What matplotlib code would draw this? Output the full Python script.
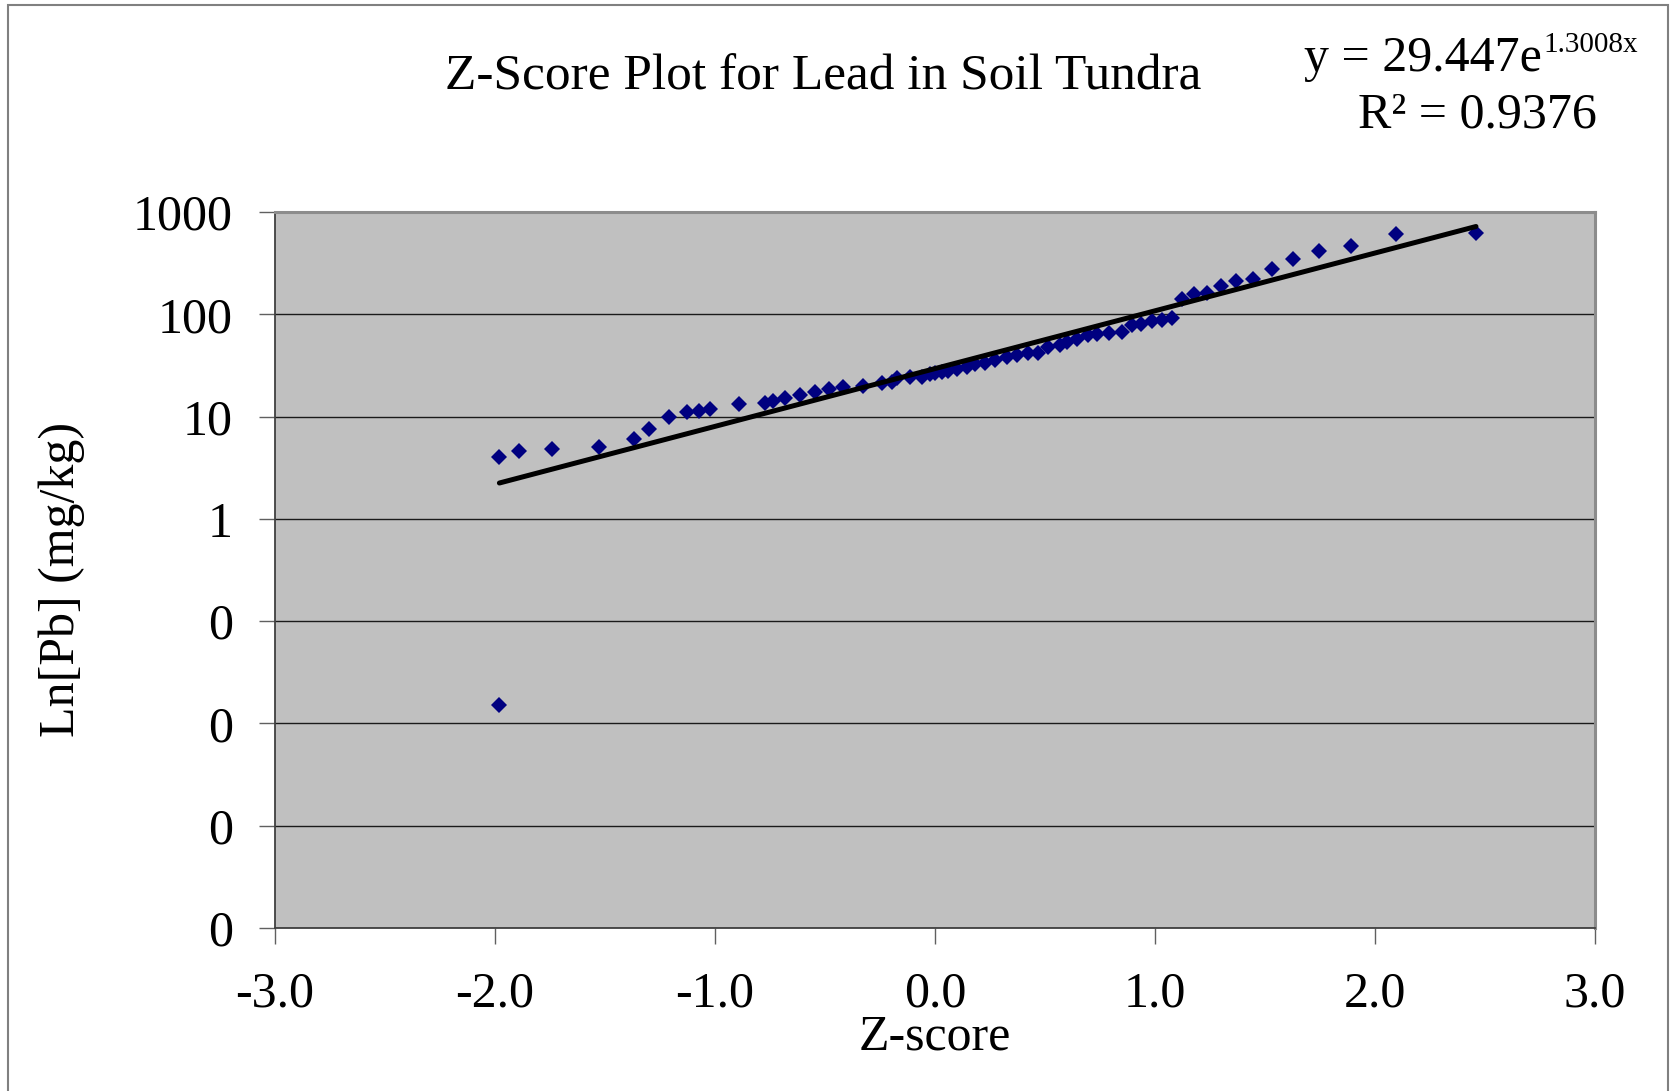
import matplotlib
matplotlib.use("Agg")
import matplotlib.pyplot as plt
import numpy as np
from matplotlib.ticker import FixedLocator, FixedFormatter, NullLocator
from matplotlib.patches import Rectangle

# ---------------- data ----------------
z_scores = [-1.98, -1.98, -1.89, -1.742, -1.529, -1.370, -1.301, -1.208, -1.127, -1.073,
            -1.023, -0.892, -0.773, -0.735, -0.680, -0.612, -0.544, -0.483, -0.418, -0.329,
            -0.242, -0.197, -0.174, -0.114, -0.061, -0.023, 0.0, 0.030, 0.061, 0.098,
            0.144, 0.182, 0.227, 0.273, 0.326, 0.371, 0.421, 0.467, 0.515, 0.568,
            0.598, 0.647, 0.697, 0.738, 0.792, 0.852, 0.894, 0.936, 0.985, 1.030,
            1.076, 1.124, 1.179, 1.235, 1.300, 1.368, 1.444, 1.530, 1.629, 1.745,
            1.889, 2.094, 2.459]
pb_values = [0.0152, 4.06, 4.6, 4.83, 5.06, 6.1, 7.5, 10.0, 11.0, 11.4,
             11.9, 13.2, 13.7, 14.2, 15.1, 16.2, 17.5, 18.5, 19.3, 20.0,
             21.1, 21.9, 23.6, 24.2, 24.5, 26.0, 26.8, 27.4, 27.8, 29.1,
             30.7, 32.4, 33.5, 35.6, 38.4, 39.8, 41.4, 42.0, 48.0, 49.9,
             53.7, 57.9, 62.4, 63.8, 64.9, 67.3, 78.2, 80.0, 85.5, 88.8,
             92.9, 142, 159, 163, 189, 211, 223, 279, 349, 414,
             460, 603, 626]

fit_a = 29.447
fit_b = 1.3008
r_squared = 0.9376

x_ticks = [-3.0, -2.0, -1.0, 0.0, 1.0, 2.0, 3.0]
x_tick_labels = ["-3.0", "-2.0", "-1.0", "0.0", "1.0", "2.0", "3.0"]
y_ticks = [1e3, 1e2, 1e1, 1e0, 1e-1, 1e-2, 1e-3, 1e-4]
y_tick_labels = ["1000", "100", "10", "1", "0", "0", "0", "0"]

title_text = "Z-Score Plot for Lead in Soil Tundra"
x_label = "Z-score"
y_label = "Ln[Pb] (mg/kg)"

# ---------------- style ----------------
SERIF = ["Liberation Serif", "DejaVu Serif"]
plt.rcParams['font.family'] = SERIF
FS = 36

W, H = 1671, 1091
fig = plt.figure(figsize=(W / 100, H / 100), dpi=100)
fig.patch.set_facecolor("white")

# outer chart border
fig.add_artist(Rectangle((8 / W, -0.05), (1668 - 8) / W, 1 - 5 / H + 0.05,
                         transform=fig.transFigure, fill=False,
                         edgecolor="#808080", linewidth=1.5))

left, right, top, bottom = 275, 1595, 212, 928
ax = fig.add_axes([left / W, 1 - bottom / H, (right - left) / W, (bottom - top) / H])
ax.set_facecolor("#C0C0C0")

ax.set_yscale("log")
ax.set_xlim(-3, 3)
ax.set_ylim(1e-4, 1e3)

ax.yaxis.set_major_locator(FixedLocator(y_ticks))
ax.yaxis.set_major_formatter(FixedFormatter(y_tick_labels))
ax.yaxis.set_minor_locator(NullLocator())
ax.xaxis.set_major_locator(FixedLocator(x_ticks))
ax.xaxis.set_major_formatter(FixedFormatter(x_tick_labels))
ax.xaxis.set_minor_locator(NullLocator())

ax.grid(axis="y", color="#1a1a1a", linewidth=1.0, zorder=1)
ax.set_axisbelow(True)

ax.tick_params(axis="both", direction="out", length=11.5, width=1.0,
               color="#606060", labelsize=FS)
ax.tick_params(axis="y", pad=19)
ax.tick_params(axis="x", pad=19.5)

for side in ("top", "right"):
    ax.spines[side].set_color("#8c8c8c")
    ax.spines[side].set_linewidth(2.2)
for side in ("left", "bottom"):
    ax.spines[side].set_color("#404040")
    ax.spines[side].set_linewidth(1.3)

# scatter points
ax.plot(z_scores, pb_values, linestyle="none", marker="D", markersize=8.5,
        markerfacecolor="#000080", markeredgewidth=0, zorder=3)

# exponential trendline from the displayed equation
zx = np.linspace(min(z_scores), max(z_scores), 200)
ax.plot(zx, fit_a * np.exp(fit_b * zx), color="black", linewidth=3.6,
        solid_capstyle="round", zorder=4)

# texts
fig.text(823 / W, 1 - 90 / H, title_text, ha="center", va="baseline", fontsize=37)
fig.text(935 / W, 1 - 1050 / H, x_label, ha="center", va="baseline", fontsize=FS)
fig.text(62 / W, 1 - 579 / H, y_label, ha="center", va="center",
         rotation=90, fontsize=FS)

fig.text(1542 / W, 1 - 71 / H, "y = %.3fe" % fit_a, ha="right", va="baseline",
         fontsize=FS)
fig.text(1543 / W, 1 - 52 / H, "%.4fx" % fit_b, ha="left", va="baseline",
         fontsize=21)
fig.text(1477 / W, 1 - 127 / H, "R\u00b2 = %.4f" % r_squared, ha="center",
         va="baseline", fontsize=FS)

fig.savefig("out.png", dpi=100, facecolor="white")
